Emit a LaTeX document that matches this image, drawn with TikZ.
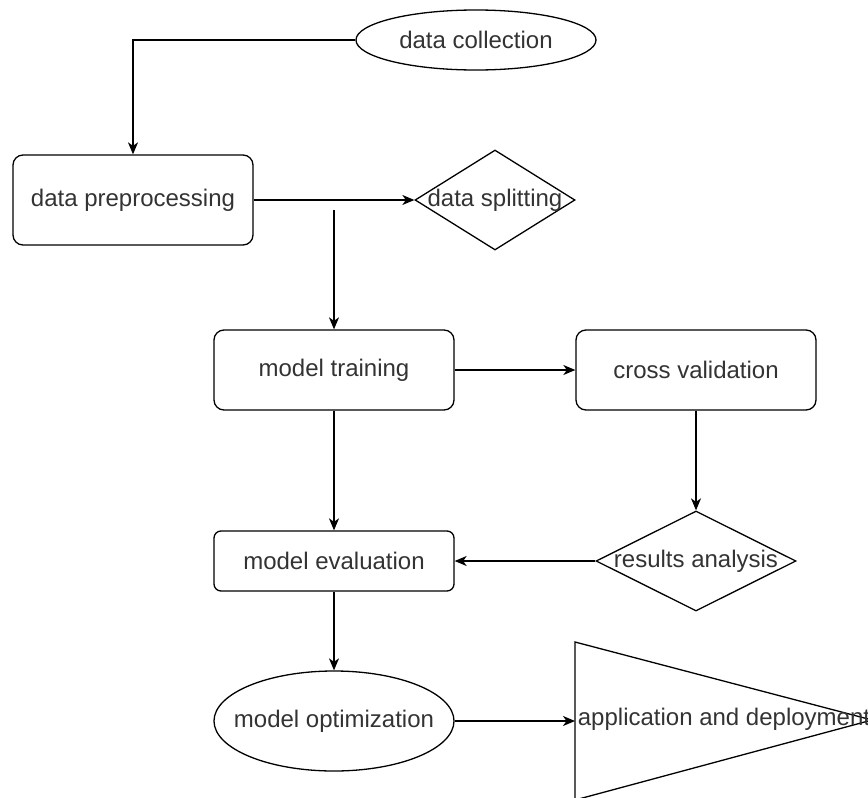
\documentclass[tikz,border=0pt]{standalone}
\usepackage{fontspec}
\setmainfont{Liberation Sans}
\usetikzlibrary{shapes.geometric,arrows.meta}
\begin{document}
\begin{tikzpicture}[x=1pt,y=-1pt,
  every node/.style={font=\fontsize{24}{28}\selectfont, text=black!80},
  box/.style={draw, line width=1.3pt, rounded corners=10pt, minimum width=240pt, inner sep=0pt},
  oval/.style={draw, ellipse, line width=1.3pt, minimum width=240pt, inner sep=0pt},
  dia/.style={draw, diamond, line width=1.3pt, inner sep=0pt},
  flow/.style={-{Stealth[length=12pt,width=10pt,inset=3.5pt]}, line width=1.3pt}]
\useasboundingbox (0,0) rectangle (868,798);

% process steps
\node[oval, minimum height=60pt, label=center:data collection] (collect) at (476,40) {};
\node[box, minimum height=90pt] (prep) at (133,200) {data preprocessing};
\node[dia, minimum width=160pt, minimum height=100pt, label=center:data splitting] (split) at (495,200) {};
\node[box, minimum height=80pt] (train) at (334,370) {model training};
\node[box, minimum height=80pt] (cv) at (696,370) {cross validation};
\node[box, minimum height=60pt, rounded corners=7pt] (eval) at (334,561) {model evaluation};
\node[dia, minimum width=200pt, minimum height=100pt, label=center:results analysis] (res) at (696,561) {};
\node[oval, minimum height=100pt, label=center:model optimization] (opt) at (334,721) {};

% deployment triangle, running off the right edge
\draw[line width=1.3pt] (575,642) -- (872,720) -- (575,800) -- cycle;
\node (deploy) at (724,719) {application and deployment};
\coordinate (deployin) at (575,721);

% loose start of the branch towards training
\coordinate (branch) at (334,210);

% connectors
\draw[flow] (collect.west) -| (prep.north);
\draw[flow] (prep.east) -- (split.west);
\draw[flow] (branch) -- (train.north);
\draw[flow] (train.east) -- (cv.west);
\draw[flow] (cv.south) -- (res.north);
\draw[flow] (res.west) -- (eval.east);
\draw[flow] (train.south) -- (eval.north);
\draw[flow] (eval.south) -- (opt.north);
\draw[flow] (opt.east) -- (deployin);
\end{tikzpicture}
\end{document}
